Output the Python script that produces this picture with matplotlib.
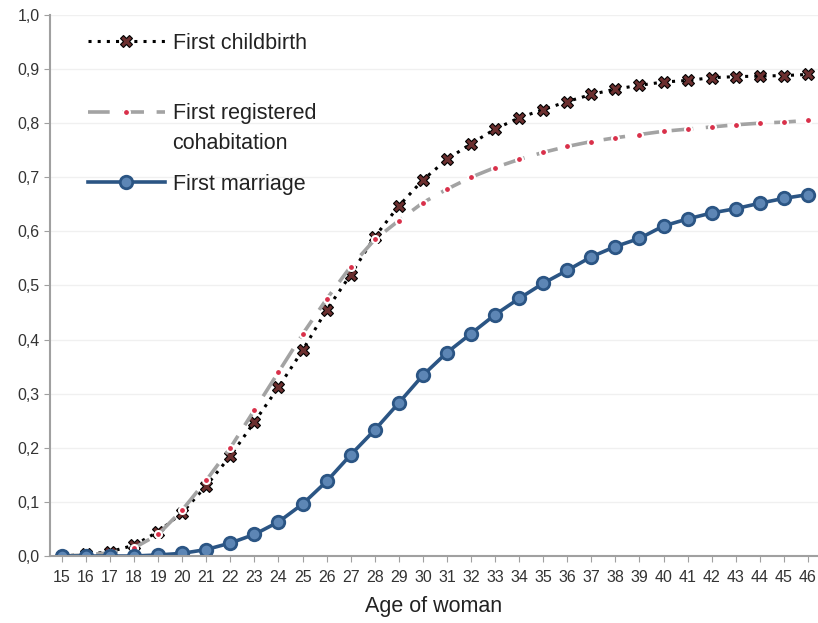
#plot cumulative share of women by age for first childbirth, cohabitation and marriage

import matplotlib.pyplot as plt
from matplotlib.ticker import FuncFormatter

plt.rcParams['font.family'] = ['Liberation Sans', 'DejaVu Sans']

# ages
ages = list(range(15, 47))

# first childbirth
childbirth = [0.0, 0.003, 0.008, 0.02, 0.045, 0.08, 0.13, 0.185, 0.248, 0.312,
              0.38, 0.455, 0.52, 0.59, 0.647, 0.695, 0.733, 0.762, 0.789, 0.81,
              0.825, 0.84, 0.853, 0.863, 0.87, 0.876, 0.879, 0.884, 0.886, 0.887,
              0.888, 0.89]

# first registered cohabitation
cohabitation = [0.0, 0.002, 0.006, 0.015, 0.04, 0.085, 0.14, 0.2, 0.27, 0.34,
                0.41, 0.475, 0.535, 0.585, 0.62, 0.653, 0.678, 0.7, 0.718, 0.733,
                0.746, 0.757, 0.766, 0.773, 0.779, 0.785, 0.789, 0.793, 0.797, 0.8,
                0.802, 0.805]

# first marriage
marriage = [0.0, 0.0, 0.0, 0.0, 0.002, 0.005, 0.012, 0.024, 0.04, 0.063,
            0.096, 0.138, 0.187, 0.233, 0.283, 0.334, 0.376, 0.411, 0.446, 0.476,
            0.504, 0.528, 0.553, 0.572, 0.587, 0.61, 0.623, 0.634, 0.642, 0.652,
            0.661, 0.668]

fig = plt.figure(figsize=(8.18, 6.23), dpi=100)
ax = fig.add_axes([0.061, 0.1075, 0.939, 0.8685])

# plotting the lines
ax.plot(ages, childbirth, color='black', linestyle=(0, (1, 2)), linewidth=2.2,
        marker='X', markersize=9, markerfacecolor='#6b2f2f',
        markeredgecolor='black', markeredgewidth=0.8, label='First childbirth')
ax.plot(ages, cohabitation, color='#a3a3a3', linestyle=(0, (6, 3.5)), linewidth=2.6,
        marker='o', markersize=5, markerfacecolor='#d9304a',
        markeredgecolor='white', markeredgewidth=1.5,
        label='First registered')
ax.plot(ages, marriage, color='#2b5584', linewidth=2.6, marker='o', markersize=9,
        markerfacecolor='#5d86b5', markeredgecolor='#2b5584', markeredgewidth=2,
        label='First marriage')

# axes
ax.set_xlim(14.5, 46.42)
ax.set_ylim(0, 1.0)
ax.set_xticks(ages)
ax.set_yticks([i / 10 for i in range(11)])
ax.yaxis.set_major_formatter(FuncFormatter(lambda v, p: f'{v:.1f}'.replace('.', ',')))
ax.tick_params(axis='both', labelsize=11.5, colors='#333333', length=4, color='#a0a0a0')
ax.tick_params(axis='x', pad=6)
ax.grid(axis='y', color='#f0f0f0', linewidth=1)
ax.set_axisbelow(True)
for s in ['top', 'right']:
    ax.spines[s].set_visible(False)
for s in ['left', 'bottom']:
    ax.spines[s].set_color('#a0a0a0')
    ax.spines[s].set_linewidth(1.5)

ax.set_xlabel('Age of woman', fontsize=15.5, color='#222222', labelpad=8)

leg = ax.legend(loc='upper left', bbox_to_anchor=(0.049, 0.967), frameon=False,
                fontsize=15.5, handlelength=3.6, handletextpad=0.35,
                labelspacing=2.3, borderpad=0, borderaxespad=0,
                labelcolor='#222222')

# second line of the cohabitation label, under its first line
ax.annotate('cohabitation', xy=(0, 0), xycoords=leg.get_texts()[1],
            xytext=(0, -30), textcoords='offset pixels', ha='left', va='bottom',
            fontsize=15.5, color='#222222', zorder=10)

fig.savefig('out.png', dpi=100)
